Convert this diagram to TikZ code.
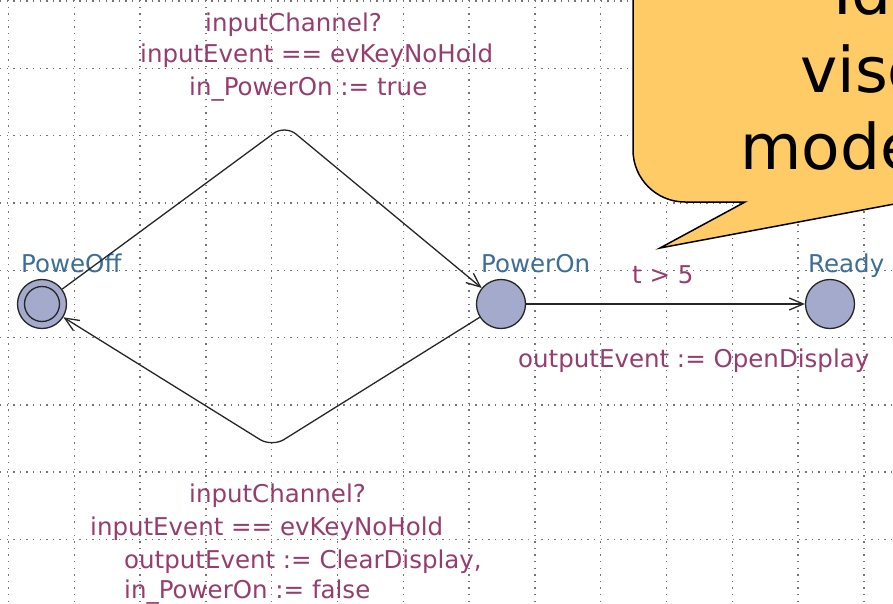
\documentclass[tikz,border=0pt]{standalone}
\usepackage{fontspec}
\setmainfont{DejaVu Sans}
\usetikzlibrary{arrows.meta}
\definecolor{locfill}{RGB}{163,170,204}
\definecolor{labelcol}{RGB}{150,60,110}
\definecolor{namecol}{RGB}{60,110,150}
\definecolor{notefill}{RGB}{254,203,102}
\begin{document}
\begin{tikzpicture}[x=1pt,y=-1pt,
    dotgrid/.style={black!55,line width=1.4pt,dash pattern=on 1.4pt off 5.2pt},
    loc/.style={circle,draw=black!85,fill=locfill,line width=1.3pt,minimum size=49pt,inner sep=0pt},
    edge/.style={draw=black!85,line width=1.3pt,-{Straight Barb[length=14pt,width=12pt]}},
    upl/.style={text=labelcol,font=\fontsize{24.5}{30}\selectfont,inner sep=0pt,anchor=base west},
    locname/.style={upl,text=namecol}]
    \useasboundingbox (0,0) rectangle (893,604);
    % dotted grid of the editor
    \foreach \i in {0,...,13}{
        \draw[dotgrid] ({8.5+65.8*\i},0) -- ({8.5+65.8*\i},604);
    }
    \foreach \j in {0,...,8}{
        \draw[dotgrid] (0,{1+67.3*\j}) -- (893,{1+67.3*\j});
    }
    % locations
    \node[loc] (off) at (42,304) {};
    \draw[draw=black!85,line width=1.3pt] (off.center) circle[radius=17.5];
    \node[loc] (on) at (501,304) {};
    \node[loc] (ready) at (830,304) {};
    \node[locname] (offname) at (21,272) {PoweOff};
    \node[locname] (onname) at (481,272) {PowerOn};
    \node[locname] (readyname) at (808,272) {Ready};
    % transitions
    \coordinate (bendtop) at (285,125);
    \coordinate (bendbot) at (272,447);
    \draw[edge,rounded corners=14pt] (off) -- (bendtop) -- (on);
    \draw[edge,rounded corners=14pt] (on) -- (bendbot) -- (off);
    \draw[edge] (on) -- (ready);
    % labels of the transitions
    \node[upl] (sync1) at (205,32) {inputChannel?};
    \node[upl] (guard1) at (140,63) {inputEvent == evKeyNoHold};
    \node[upl] (assign1) at (189,96) {in\_PowerOn := true};
    \node[upl] (sync2) at (189,502) {inputChannel?};
    \node[upl] (guard2) at (90,535) {inputEvent == evKeyNoHold};
    \node[upl] (assign2) at (124,568) {outputEvent := ClearDisplay,};
    \node[upl] (assign2b) at (124,598) {in\_PowerOn := false};
    \node[upl] (guard3) at (632,283) {t > 5};
    \node[upl] (assign3) at (518,367) {outputEvent := OpenDisplay};
    % speech bubble
    \draw[fill=notefill,line width=1.5pt] (633,-10) -- (633,150) arc[start angle=180,end angle=90,radius=52]
        -- (745,202) -- (660,248) -- (905,202) -- (950,202) -- (950,-10) -- cycle;
    \node[anchor=base west,inner sep=0pt,font=\fontsize{63}{63}\selectfont] (note1) at (833,15) {Ide};
    \node[anchor=base west,inner sep=0pt,font=\fontsize{63}{63}\selectfont] (note2) at (800,93) {vise};
    \node[anchor=base west,inner sep=0pt,font=\fontsize{63}{63}\selectfont] (note3) at (740,170) {mode};
\end{tikzpicture}
\end{document}
